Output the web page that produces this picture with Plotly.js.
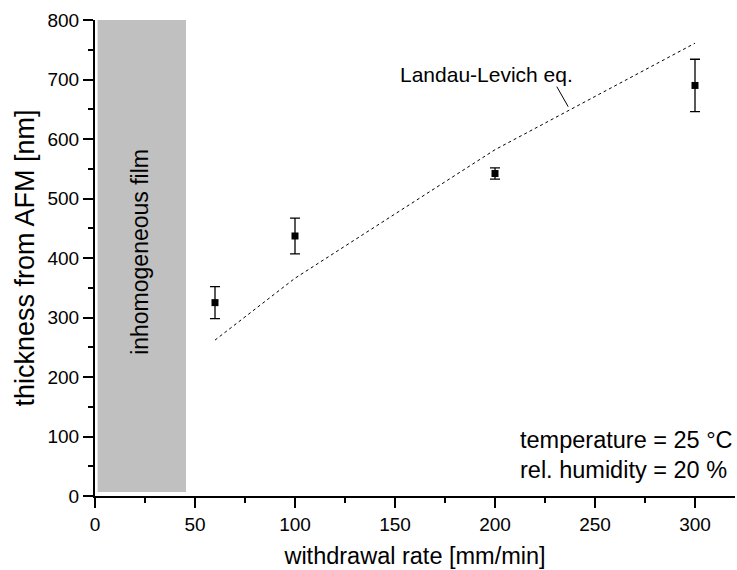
<!DOCTYPE html>
<html>
<head>
<meta charset="utf-8">
<script src="https://cdn.plot.ly/plotly-3.0.1.min.js"></script>
<style>body{margin:0;padding:0;background:#fff;} #chart{width:737px;height:570px;}</style>
</head>
<body>
<div id="chart"></div>
<script>
// Measured data
var rate = [60, 100, 200, 300];
var thickness = [325, 437, 542, 690];
var thicknessErr = [27, 30, 9.5, 44];

// Landau-Levich prediction
var llRate = [60, 100, 200, 300];
var llThickness = [262, 366, 582, 761];

// Inhomogeneous region
var inhomX = [1.3, 45.5];
var inhomY = [6.7, 800];

var xTicks = [0, 50, 100, 150, 200, 250, 300];
var yTicks = [0, 100, 200, 300, 400, 500, 600, 700, 800];

var FONT = 'Liberation Sans, Arial, Helvetica, sans-serif';

var traces = [
  {
    x: llRate, y: llThickness, type: 'scatter', mode: 'lines',
    line: {color: '#000', width: 1, dash: '3px,3px'},
    hoverinfo: 'skip', showlegend: false
  },
  {
    x: rate, y: thickness, type: 'scatter', mode: 'markers',
    marker: {symbol: 'square', size: 7, color: '#000'},
    error_y: {type: 'data', array: thicknessErr, visible: true, color: '#000', thickness: 1.3, width: 5},
    showlegend: false
  }
];

var layout = {
  width: 737, height: 570,
  margin: {l: 95, r: 2, t: 20, b: 74},
  paper_bgcolor: '#fff', plot_bgcolor: '#fff',
  font: {family: FONT, color: '#000', size: 19},
  showlegend: false,
  xaxis: {
    range: [0, 320], tickvals: xTicks, ticktext: xTicks.map(String),
    showgrid: false, zeroline: false, showline: true, linecolor: '#000', linewidth: 2,
    ticks: 'outside', ticklen: 10, tickwidth: 2, tickcolor: '#000',
    minor: {dtick: 25, tick0: 0, ticks: 'outside', ticklen: 5, tickwidth: 2, tickcolor: '#000', showgrid: false},
    tickfont: {size: 19, family: FONT},
    title: {text: 'withdrawal rate [mm/min]', font: {size: 23.5, family: FONT}, standoff: 14},
    fixedrange: true
  },
  yaxis: {
    range: [0, 800], tickvals: yTicks, ticktext: yTicks.map(String),
    showgrid: false, zeroline: false, showline: true, linecolor: '#000', linewidth: 2,
    ticks: 'outside', ticklen: 10, tickwidth: 2, tickcolor: '#000',
    minor: {dtick: 50, tick0: 0, ticks: 'outside', ticklen: 5, tickwidth: 2, tickcolor: '#000', showgrid: false},
    tickfont: {size: 19, family: FONT},
    title: {text: 'thickness from AFM [nm]', font: {size: 27, family: FONT}, standoff: 5},
    fixedrange: true
  },
  shapes: [
    {type: 'rect', xref: 'x', yref: 'y', x0: inhomX[0], x1: inhomX[1], y0: inhomY[0], y1: inhomY[1],
     fillcolor: '#c0c0c0', line: {width: 0}, layer: 'below'},
    {type: 'line', xref: 'x', yref: 'y', x0: 230.9, y0: 688, x1: 236.6, y1: 654.3,
     line: {color: '#000', width: 1}}
  ],
  annotations: [
    {x: 22.7, y: 411, xref: 'x', yref: 'y', text: 'inhomogeneous film', textangle: -90,
     showarrow: false, font: {size: 23, family: FONT, color: '#000'}},
    {x: 195.8, y: 708, xref: 'x', yref: 'y', text: 'Landau-Levich eq.',
     showarrow: false, font: {size: 21, family: FONT, color: '#000'}},
    {x: 211.5, y: 94, xref: 'x', yref: 'y', text: 'temperature = 25 °C', xanchor: 'left',
     showarrow: false, font: {size: 23.5, family: FONT, color: '#000'}},
    {x: 211.5, y: 43.7, xref: 'x', yref: 'y', text: 'rel. humidity = 20 %', xanchor: 'left',
     showarrow: false, font: {size: 23.5, family: FONT, color: '#000'}}
  ]
};

Plotly.newPlot('chart', traces, layout, {displayModeBar: false, staticPlot: true});
</script>
</body>
</html>
